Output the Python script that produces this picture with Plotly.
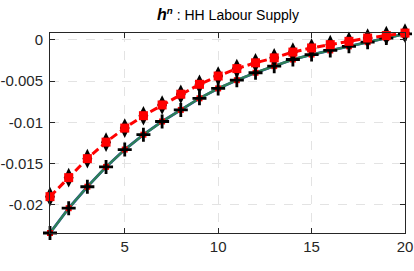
import plotly.graph_objects as go

periods = list(range(1, 21))
series_plus = [-0.0234, -0.0204, -0.0178, -0.0154, -0.0133, -0.0115, -0.0099, -0.0085,
               -0.0071, -0.0059, -0.0049, -0.0040, -0.0032, -0.0024, -0.0018, -0.0013,
               -0.0008, -0.0003, 0.0002, 0.0007]
series_diamond = [-0.0190, -0.0167, -0.0144, -0.0124, -0.0107, -0.0092, -0.0079, -0.0066,
                  -0.0054, -0.0044, -0.0035, -0.0028, -0.0022, -0.0015, -0.0010, -0.0006,
                  -0.0002, 0.0002, 0.0005, 0.0008]
x_ticks = [5, 10, 15, 20]
y_ticks = [0, -0.005, -0.01, -0.015, -0.02]
y_ticklabels = ["0", "-0.005", "-0.01", "-0.015", "-0.02"]

fig = go.Figure()
# solid series (blue under green) with black plus markers
fig.add_trace(go.Scatter(x=periods, y=series_plus, mode="lines",
                         line=dict(color="#2a3fb0", width=2.8), cliponaxis=False))
fig.add_trace(go.Scatter(x=periods, y=series_plus, mode="lines+markers",
                         line=dict(color="#2e8057", width=2.4),
                         marker=dict(symbol="square", size=6, color="#ff0000"),
                         cliponaxis=False))
fig.add_trace(go.Scatter(x=periods, y=series_plus, mode="markers",
                         marker=dict(symbol="cross-thin", size=10,
                                     line=dict(color="black", width=2.8)),
                         cliponaxis=False))
# dashed red series with black diamonds and red squares
fig.add_trace(go.Scatter(x=periods, y=series_diamond, mode="markers",
                         marker=dict(symbol="diamond-tall", size=14, color="black"),
                         cliponaxis=False))
fig.add_trace(go.Scatter(x=periods, y=series_diamond, mode="lines+markers",
                         line=dict(color="#ff0000", width=3, dash="8px,4px"),
                         marker=dict(symbol="square", size=9, color="#ff0000"),
                         cliponaxis=False))

font_family = "Liberation Sans, Arial, sans-serif"
fig.update_layout(
    width=414, height=271,
    margin=dict(l=50, r=9, t=33, b=38, autoexpand=False),
    paper_bgcolor="white", plot_bgcolor="white",
    showlegend=False,
    font=dict(family=font_family, size=15, color="#262626"),
    title=dict(text="<span style='font-size:16px'><b><i>h</i></b></span>"
                    "<sup><b><i>n</i></b></sup> : HH Labour Supply",
               x=228 / 414, xanchor="center", y=1 - 15 / 271, yanchor="middle",
               font=dict(family=font_family, size=14, color="black")),
)
fig.update_xaxes(range=[1, 20], tickvals=x_ticks, ticktext=[str(v) for v in x_ticks],
                 showgrid=True, gridcolor="#e3e3e3", griddash="dash", gridwidth=1,
                 showline=True, linecolor="#262626", linewidth=1, mirror="ticks",
                 ticks="inside", ticklen=5, tickcolor="#262626",
                 zeroline=False, automargin=False, ticklabelstandoff=0)
fig.update_yaxes(range=[-0.0234, 0.00081], tickvals=y_ticks, ticktext=y_ticklabels,
                 showgrid=True, gridcolor="#e3e3e3", griddash="dash", gridwidth=1,
                 showline=True, linecolor="#262626", linewidth=1, mirror="ticks",
                 ticks="inside", ticklen=5, tickcolor="#262626",
                 zeroline=False, automargin=False, ticklabelstandoff=3)

fig.write_html("out.html", config={"displayModeBar": False},
               post_script="document.body.style.margin='0';document.body.style.overflow='hidden';")
